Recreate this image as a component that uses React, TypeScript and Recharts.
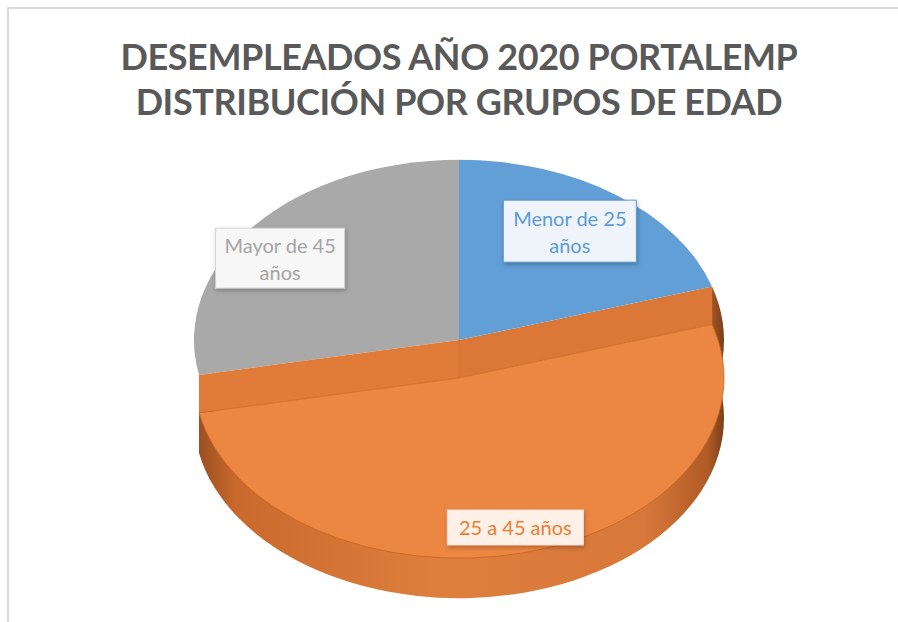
import React from 'react';
import { PieChart, Pie, Cell } from 'recharts';

// datos: porcentaje de desempleados por grupo de edad
const categories = ['Mayor de 45 años', '25 a 45 años', 'Menor de 25 años'];
const values = [28.1, 51.7, 20.2];
const labelLines = [['Mayor de 45', 'años'], ['25 a 45 años'], ['Menor de 25', 'años']];

const topColors = ['#a9a9a9', '#ec8743', '#629fd7'];
const textColors = ['#a5a5a5', '#ed7d31', '#5b9bd5'];
const boxFills = ['#f7f7f7', '#fdf0e7', '#eef4fa'];
const boxStrokes = ['#d4d4d4', '#fbe3d3', '#5b9bd5'];

const data = categories.map((name, i) => ({ name, value: values[i] }));

const RAD = Math.PI / 180;
const RY_RATIO = 0.68;
const LIFT = 38; // desplazamiento del sector frontal
const DEPTH = 40; // grosor del pastel

// posición de cada etiqueta: fracción del radio + ajuste fino
const labelPos = [
  { r: 0.82, dx: -11, dy: 12, w: 129, h: 60 },
  { r: 0.85, dx: 1, dy: 1, w: 136, h: 35 },
  { r: 0.75, dx: -7, dy: 0, w: 133, h: 62 },
];

const renderSlice = (props: any) => {
  const { cx, cy, outerRadius, startAngle, endAngle, midAngle, index } = props;
  const rx = outerRadius;
  const ry = outerRadius * RY_RATIO;
  const a0 = Math.min(startAngle, endAngle);
  const a1 = Math.max(startAngle, endAngle);
  const front = index === 1;
  const off = front ? LIFT : 0;
  const pt = (a: number, o: number) => [cx + rx * Math.cos(a * RAD), cy - ry * Math.sin(a * RAD) + o];
  const large = a1 - a0 > 180 ? 1 : 0;
  const p0 = pt(a0, off);
  const p1 = pt(a1, off);
  const face = `M${cx},${cy + off} L${p0[0]},${p0[1]} A${rx},${ry} 0 ${large} 0 ${p1[0]},${p1[1]} Z`;

  const pos = labelPos[index];
  const bx = cx + pos.r * rx * Math.cos(midAngle * RAD) + pos.dx;
  const by = cy + off - pos.r * ry * Math.sin(midAngle * RAD) + pos.dy;
  const lines = labelLines[index];

  let wall = null;
  if (front) {
    const w0 = pt(a0, 0);
    const w1 = pt(a1, 0);
    const b0 = pt(a0, off + DEPTH);
    const b1 = pt(a1, off + DEPTH);
    wall = (
      <g>
        <defs>
          <linearGradient id="sideGrad" x1="0" y1="0" x2="1" y2="0">
            <stop offset="0" stopColor="#9c4f22" />
            <stop offset="0.07" stopColor="#c9692c" />
            <stop offset="0.45" stopColor="#df7f3d" />
            <stop offset="0.85" stopColor="#d7783a" />
            <stop offset="0.97" stopColor="#b05a25" />
            <stop offset="1" stopColor="#7a3f1b" />
          </linearGradient>
        </defs>
        <path
          d={`M${w0[0]},${w0[1]} A${rx},${ry} 0 ${large} 0 ${w1[0]},${w1[1]} L${b1[0]},${b1[1]} A${rx},${ry} 0 ${large} 1 ${b0[0]},${b0[1]} Z`}
          fill="url(#sideGrad)"
        />
        <path d={`M${cx},${cy} L${w0[0]},${w0[1]} L${p0[0]},${p0[1]} L${cx},${cy + off} Z`} fill="#e07b39" />
        <path d={`M${cx},${cy} L${w1[0]},${w1[1]} L${p1[0]},${p1[1]} L${cx},${cy + off} Z`} fill="#db7838" />
        <path d={`M${cx},${cy} L${cx},${cy + off}`} stroke="#d0702f" strokeWidth={0.6} />
      </g>
    );
  }

  return (
    <g key={`slice-${index}`}>
      {wall}
      <path d={face} fill={topColors[index]} stroke={front ? '#c9641f' : 'none'} strokeWidth={0.8} />
      <rect
        x={bx - pos.w / 2}
        y={by - pos.h / 2}
        width={pos.w}
        height={pos.h}
        fill={boxFills[index]}
        stroke={boxStrokes[index]}
        strokeWidth={1}
        style={{ filter: 'drop-shadow(1px 2px 2px rgba(0,0,0,0.25))' }}
      />
      {lines.map((t, k) => (
        <text
          key={k}
          x={bx}
          y={by + (k - (lines.length - 1) / 2) * 27}
          textAnchor="middle"
          dominantBaseline="central"
          fill={textColors[index]}
          fontSize={20}
          fontFamily="Lato, 'Open Sans', sans-serif"
        >
          {t}
        </text>
      ))}
    </g>
  );
};

export default function App() {
  return (
    <div style={{ position: 'absolute', left: 0, top: 0, width: 898, height: 622, background: '#fff' }}>
      <div
        style={{
          position: 'absolute',
          left: 7,
          top: 7,
          width: 900,
          height: 620,
          borderTop: '2px solid #d9d9d9',
          borderLeft: '2px solid #d9d9d9',
        }}
      />
      <div
        style={{
          position: 'absolute',
          left: 0,
          top: 34,
          width: 918,
          textAlign: 'center',
          fontFamily: "Lato, 'Open Sans', sans-serif",
          fontWeight: 700,
          fontSize: 36,
          letterSpacing: -0.4,
          lineHeight: '45px',
          color: '#595959',
        }}
      >
        <div>DESEMPLEADOS AÑO 2020 PORTALEMP</div>
        <div>DISTRIBUCIÓN POR GRUPOS DE EDAD</div>
      </div>
      <PieChart width={898} height={622} margin={{ top: 0, right: 0, bottom: 0, left: 0 }} style={{ position: 'absolute', left: 0, top: 0 }}>
        <Pie
          data={data}
          dataKey="value"
          nameKey="name"
          cx={459}
          cy={340}
          outerRadius={265}
          startAngle={90}
          endAngle={450}
          stroke="none"
          label={renderSlice}
          labelLine={false}
          isAnimationActive={false}
        >
          {data.map((d) => (
            <Cell key={d.name} fill="none" />
          ))}
        </Pie>
      </PieChart>
    </div>
  );
}
